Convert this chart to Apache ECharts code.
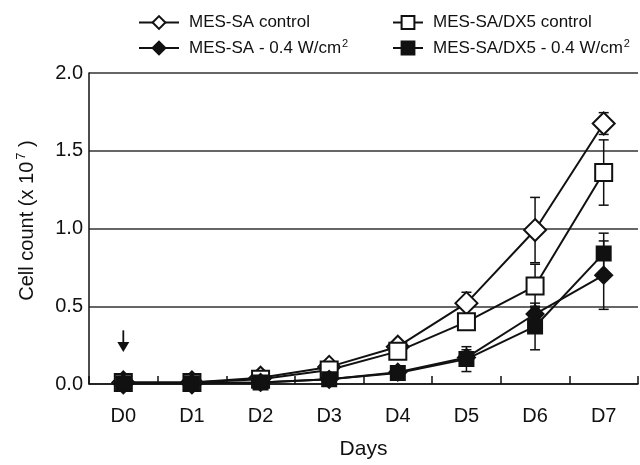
<!DOCTYPE html>
<html>
<head>
<meta charset="utf-8">
<script src="https://cdn.jsdelivr.net/npm/echarts@6/dist/echarts.min.js"></script>
<style>
html,body{margin:0;padding:0;background:#fff;}
#c{width:640px;height:465px;}
</style>
</head>
<body>
<div id="c"></div>
<script>
const categories = ['D0', 'D1', 'D2', 'D3', 'D4', 'D5', 'D6', 'D7'];
const yTicks = [0, 0.5, 1.0, 1.5, 2.0];

const mesSaControl    = [0.01, 0.01, 0.04, 0.11, 0.24, 0.52, 0.99, 1.675];
const mesSaControlErr = [0, 0, 0.01, 0.02, 0.03, 0.07, 0.21, 0.07];
const dx5Control      = [0.01, 0.01, 0.03, 0.09, 0.21, 0.40, 0.63, 1.36];
const dx5ControlErr   = [0, 0, 0.01, 0.02, 0.03, 0.04, 0.14, 0.21];
const mesSaUS         = [0.005, 0.005, 0.01, 0.03, 0.076, 0.17, 0.45, 0.70];
const mesSaUSErr      = [0, 0, 0, 0.01, 0.02, 0.05, 0.05, 0.22];
const dx5US           = [0.005, 0.005, 0.01, 0.03, 0.07, 0.16, 0.37, 0.84];
const dx5USErr        = [0, 0, 0, 0.01, 0.02, 0.08, 0.15, 0.13];

const arrowAt = ['D0', 0.345, 0.205];

const names = {
  a: 'MES-SA control',
  b: 'MES-SA - 0.4 W/cm2',
  c: 'MES-SA/DX5 control',
  d: 'MES-SA/DX5 - 0.4 W/cm2'
};

const FONT = '"Liberation Sans", Arial, Helvetica, sans-serif';
const INK = '#111';

function errData(vals, errs) {
  const out = [];
  vals.forEach((v, i) => { if (errs[i] > 0) out.push([i, v - errs[i], v + errs[i]]); });
  return out;
}

function errSeries(vals, errs) {
  return {
    type: 'custom',
    z: 1,
    silent: true,
    data: errData(vals, errs),
    renderItem: function (params, api) {
      const x = api.value(0);
      const lo = api.coord([x, api.value(1)]);
      const hi = api.coord([x, api.value(2)]);
      const w = 5;
      const st = { stroke: INK, lineWidth: 1.5 };
      return {
        type: 'group',
        children: [
          { type: 'line', shape: { x1: lo[0], y1: lo[1], x2: hi[0], y2: hi[1] }, style: st },
          { type: 'line', shape: { x1: lo[0] - w, y1: lo[1], x2: lo[0] + w, y2: lo[1] }, style: st },
          { type: 'line', shape: { x1: hi[0] - w, y1: hi[1], x2: hi[0] + w, y2: hi[1] }, style: st }
        ]
      };
    }
  };
}

function lineSeries(name, vals, symbol, size, filled, z) {
  return {
    name: name,
    type: 'line',
    z: z,
    data: vals,
    symbol: symbol,
    symbolSize: size,
    showAllSymbol: true,
    lineStyle: { color: INK, width: 2 },
    itemStyle: { color: filled ? INK : '#fff', borderColor: INK, borderWidth: 2 },
    emphasis: { disabled: true },
    animation: false
  };
}

function legendFmt(name) {
  if (name.endsWith('cm2')) return '{t|' + name.slice(0, -1) + '}{s|2}';
  return '{t|' + name + '}';
}

const legendText = {
  fontFamily: FONT, fontSize: 17, color: INK, padding: [0, 0, 0, 5],
  rich: {
    t: { fontFamily: FONT, fontSize: 17, color: INK, lineHeight: 20 },
    s: { fontFamily: FONT, fontSize: 11, color: INK, verticalAlign: 'top', lineHeight: 20, padding: [0, 0, 10, 1] }
  }
};

const chart = echarts.init(document.getElementById('c'), null, { renderer: 'canvas' });
chart.setOption({
  animation: false,
  backgroundColor: '#fff',
  textStyle: { fontFamily: FONT },
  legend: [
    {
      orient: 'vertical', left: 133, top: 9, itemGap: 7,
      itemWidth: 40, itemHeight: 16,
      data: [names.a, names.b],
      formatter: legendFmt, textStyle: legendText,
      selectedMode: false
    },
    {
      orient: 'vertical', left: 387, top: 9, itemGap: 7,
      itemWidth: 30, itemHeight: 16,
      data: [names.c, names.d],
      formatter: legendFmt, textStyle: legendText,
      selectedMode: false
    }
  ],
  grid: { left: 89, right: 2, top: 73, bottom: 78, containLabel: false },
  xAxis: {
    type: 'category',
    data: categories,
    boundaryGap: true,
    name: 'Days',
    nameLocation: 'middle',
    nameGap: 55,
    nameTextStyle: { fontFamily: FONT, fontSize: 21, color: INK },
    axisLine: { lineStyle: { color: INK, width: 1.5 } },
    axisTick: { show: true, inside: true, length: 8, lineStyle: { color: INK, width: 1.5 } },
    axisLabel: { fontFamily: FONT, fontSize: 20, color: INK, margin: 22 },
    splitLine: { show: false }
  },
  yAxis: {
    type: 'value',
    min: yTicks[0],
    max: yTicks[yTicks.length - 1],
    interval: 0.5,
    name: '{t|Cell count (x 10}{s|7}{t| )}',
    nameLocation: 'middle',
    nameGap: 50,
    nameRotate: 90,
    nameTextStyle: {
      fontFamily: FONT, fontSize: 20, color: INK,
      padding: [0, 0, 0, 16],
      rich: {
        t: { fontFamily: FONT, fontSize: 20, color: INK, lineHeight: 24 },
        s: { fontFamily: FONT, fontSize: 13, color: INK, verticalAlign: 'top', lineHeight: 24, padding: [0, 0, 10, 2] }
      }
    },
    axisLine: { show: true, lineStyle: { color: INK, width: 1.5 } },
    axisTick: { show: false },
    axisLabel: {
      fontFamily: FONT, fontSize: 20, color: INK, margin: 6,
      formatter: v => v.toFixed(1)
    },
    splitLine: { show: true, lineStyle: { color: '#333', width: 1.5 } }
  },
  series: [
    errSeries(mesSaUS, mesSaUSErr),
    errSeries(dx5US, dx5USErr),
    errSeries(dx5Control, dx5ControlErr),
    errSeries(mesSaControl, mesSaControlErr),
    lineSeries(names.a, mesSaControl, 'diamond', 22, false, 3),
    lineSeries(names.c, dx5Control, 'rect', 17, false, 4),
    lineSeries(names.b, mesSaUS, 'diamond', 17, true, 5),
    lineSeries(names.d, dx5US, 'rect', 14, true, 6),
    {
      type: 'custom',
      z: 7,
      silent: true,
      data: [[categories.indexOf(arrowAt[0]), arrowAt[1], arrowAt[2]]],
      renderItem: function (params, api) {
        const x = api.value(0);
        const top = api.coord([x, api.value(1)]);
        const bot = api.coord([x, api.value(2)]);
        const hw = 6, hh = 10;
        return {
          type: 'group',
          children: [
            { type: 'line', shape: { x1: top[0], y1: top[1], x2: bot[0], y2: bot[1] - hh + 1 }, style: { stroke: INK, lineWidth: 1.8 } },
            { type: 'polygon', shape: { points: [[bot[0] - hw, bot[1] - hh], [bot[0] + hw, bot[1] - hh], [bot[0], bot[1]]] }, style: { fill: INK } }
          ]
        };
      }
    }
  ]
});
</script>
</body>
</html>
